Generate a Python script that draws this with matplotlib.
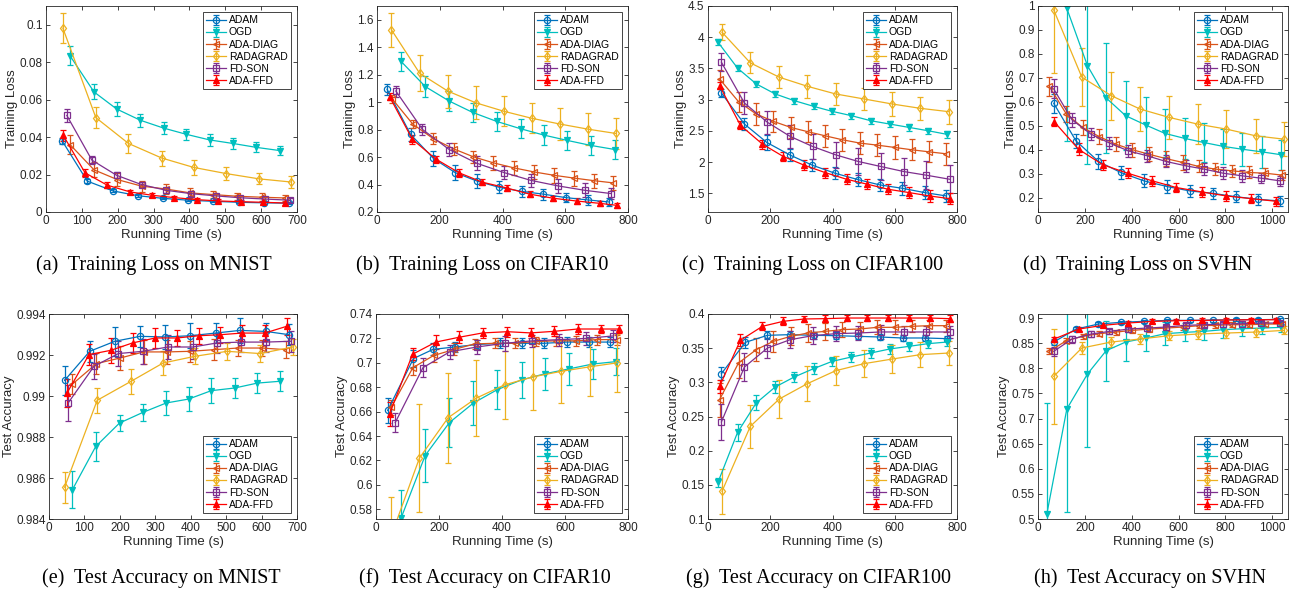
import matplotlib
matplotlib.use("Agg")
import matplotlib.pyplot as plt
from matplotlib.ticker import FuncFormatter

plt.rcParams['font.family'] = ['Liberation Sans', 'DejaVu Sans']

names = ['ADAM', 'OGD', 'ADA-DIAG', 'RADAGRAD', 'FD-SON', 'ADA-FFD']
colors = ['#0072BD', '#00BFBF', '#D95319', '#EDB120', '#7E2F8E', '#FF0000']
markers = ['o', 'v', '<', 'd', 's', '^']

# (a) training loss, MNIST
a_x = [[45, 115, 186, 256, 326, 396, 467, 537, 607, 677],
       [67, 134, 197, 263, 328, 391, 456, 521, 587, 652],
       [67, 134, 199, 267, 334, 402, 467, 534, 601, 666],
       [47, 139, 230, 323, 412, 503, 594, 684],
       [58, 128, 197, 267, 335, 404, 474, 542, 612, 681],
       [48, 109, 171, 235, 297, 357, 421, 481, 544, 604, 667]]
a_y = [[0.038, 0.0165, 0.0113, 0.0087, 0.0073, 0.0063, 0.0057, 0.0052, 0.0049, 0.0047],
       [0.0834, 0.0641, 0.055, 0.049, 0.0448, 0.0415, 0.0385, 0.0366, 0.0345, 0.0328],
       [0.036, 0.0225, 0.0173, 0.0138, 0.0123, 0.0102, 0.0093, 0.0084, 0.0079, 0.0075],
       [0.0982, 0.0504, 0.0366, 0.0288, 0.0238, 0.0205, 0.0177, 0.016],
       [0.0516, 0.0277, 0.0196, 0.0146, 0.0116, 0.0098, 0.0086, 0.0076, 0.0069, 0.0063],
       [0.041, 0.0209, 0.0143, 0.0107, 0.0089, 0.0077, 0.0066, 0.0059, 0.0055, 0.0052, 0.0048]]
a_e = [[0.0015, 0.001, 0.0008, 0.0007, 0.0006, 0.0006, 0.0005, 0.0005, 0.0005, 0.0005],
       [0.005, 0.004, 0.0037, 0.0035, 0.003, 0.003, 0.003, 0.0027, 0.0027, 0.0023],
       [0.005, 0.004, 0.0035, 0.003, 0.0025, 0.0025, 0.002, 0.002, 0.002, 0.0015],
       [0.008, 0.0055, 0.005, 0.004, 0.004, 0.0033, 0.003, 0.003],
       [0.0035, 0.002, 0.0017, 0.0015, 0.0014, 0.0012, 0.0011, 0.001, 0.001, 0.001],
       [0.003, 0.002, 0.0015, 0.001, 0.001, 0.001, 0.0008, 0.0008, 0.0008, 0.0008, 0.0008]]

# (b) training loss, CIFAR10
b_x = [[32, 107, 180, 249, 320, 389, 461, 530, 601, 671, 739],
       [77, 154, 230, 305, 381, 458, 532, 607, 681, 758],
       [48, 114, 180, 244, 307, 371, 437, 500, 565, 628, 692, 753],
       [46, 136, 226, 315, 405, 494, 584, 673, 761],
       [60, 145, 230, 318, 405, 491, 577, 662, 747],
       [40, 113, 188, 262, 336, 413, 487, 562, 636, 710, 766]]
b_y = [[1.094, 0.765, 0.59, 0.487, 0.424, 0.38, 0.35, 0.33, 0.305, 0.288, 0.273],
       [1.296, 1.113, 1.008, 0.925, 0.86, 0.806, 0.76, 0.721, 0.685, 0.655],
       [1.025, 0.84, 0.733, 0.66, 0.602, 0.558, 0.521, 0.492, 0.467, 0.447, 0.428, 0.412],
       [1.527, 1.21, 1.08, 0.995, 0.933, 0.882, 0.84, 0.803, 0.772],
       [1.081, 0.801, 0.655, 0.555, 0.487, 0.43, 0.39, 0.358, 0.334],
       [1.04, 0.728, 0.585, 0.485, 0.417, 0.375, 0.33, 0.3, 0.28, 0.263, 0.248]]
b_e = [[0.04, 0.05, 0.055, 0.055, 0.05, 0.045, 0.04, 0.04, 0.035, 0.035, 0.03],
       [0.07, 0.075, 0.07, 0.07, 0.07, 0.07, 0.07, 0.07, 0.07, 0.07],
       [0.03, 0.03, 0.04, 0.045, 0.045, 0.05, 0.05, 0.05, 0.055, 0.055, 0.05, 0.05],
       [0.125, 0.13, 0.12, 0.12, 0.11, 0.11, 0.115, 0.115, 0.11],
       [0.04, 0.04, 0.05, 0.05, 0.05, 0.05, 0.05, 0.05, 0.04],
       [0.025, 0.03, 0.025, 0.03, 0.02, 0.02, 0.02, 0.02, 0.02, 0.02, 0.02]]

# (c) training loss, CIFAR100
c_x = [[43, 117, 189, 262, 335, 408, 481, 552, 624, 696, 766],
       [32, 95, 155, 216, 277, 339, 399, 461, 523, 584, 646, 707, 769],
       [37, 98, 155, 210, 266, 321, 376, 432, 488, 544, 600, 656, 710, 766],
       [45, 136, 229, 319, 410, 501, 592, 682, 774],
       [43, 117, 191, 264, 336, 410, 483, 555, 629, 702, 776],
       [37, 104, 175, 242, 309, 376, 445, 512, 579, 646, 712, 776]]
c_y = [[3.107, 2.609, 2.314, 2.116, 1.95, 1.821, 1.72, 1.634, 1.58, 1.511, 1.457],
       [3.921, 3.504, 3.252, 3.091, 2.984, 2.893, 2.812, 2.743, 2.662, 2.609, 2.555, 2.502, 2.443],
       [3.332, 2.968, 2.77, 2.652, 2.555, 2.486, 2.421, 2.357, 2.304, 2.271, 2.234, 2.196, 2.164, 2.132],
       [4.08, 3.589, 3.359, 3.214, 3.091, 3.011, 2.93, 2.861, 2.807],
       [3.6, 2.946, 2.636, 2.411, 2.25, 2.116, 2.009, 1.929, 1.848, 1.789, 1.725],
       [3.225, 2.59, 2.287, 2.089, 1.95, 1.832, 1.725, 1.645, 1.564, 1.511, 1.457, 1.414]]
c_e = [[0.06, 0.1, 0.12, 0.1, 0.1, 0.1, 0.1, 0.1, 0.1, 0.1, 0.1],
       [0.05] * 13,
       [0.14, 0.16, 0.17, 0.17, 0.17, 0.17, 0.18, 0.18, 0.18, 0.18, 0.18, 0.17, 0.17, 0.18],
       [0.13, 0.17, 0.18, 0.18, 0.18, 0.18, 0.19, 0.18, 0.19],
       [0.14, 0.17, 0.18, 0.19, 0.2, 0.21, 0.21, 0.22, 0.22, 0.22, 0.22],
       [0.05, 0.06, 0.07, 0.08, 0.08, 0.08, 0.08, 0.08, 0.08, 0.09, 0.09, 0.09]]

# (d) training loss, SVHN
d_x = [[67, 162, 258, 353, 452, 552, 648, 745, 843, 939, 1034],
       [40, 123, 211, 291, 374, 460, 542, 627, 708, 790, 872, 956, 1038],
       [48, 121, 190, 261, 332, 403, 474, 546, 617, 687, 757, 828, 899, 970, 1041],
       [67, 187, 312, 435, 559, 681, 804, 929, 1050],
       [67, 145, 226, 305, 386, 465, 546, 630, 709, 790, 871, 953, 1034],
       [69, 173, 277, 383, 488, 591, 698, 804, 908, 1014]]
d_y = [[0.594, 0.437, 0.351, 0.305, 0.27, 0.246, 0.228, 0.218, 0.204, 0.193, 0.186],
       [1.6, 0.99, 0.751, 0.616, 0.542, 0.503, 0.468, 0.447, 0.43, 0.414, 0.402, 0.391, 0.379],
       [0.665, 0.549, 0.493, 0.455, 0.423, 0.4, 0.381, 0.363, 0.347, 0.33, 0.319, 0.312, 0.305, 0.302, 0.294],
       [0.984, 0.703, 0.626, 0.57, 0.535, 0.507, 0.486, 0.458, 0.444],
       [0.654, 0.525, 0.465, 0.428, 0.395, 0.375, 0.351, 0.333, 0.319, 0.302, 0.291, 0.281, 0.27],
       [0.517, 0.402, 0.337, 0.302, 0.27, 0.242, 0.224, 0.207, 0.196, 0.185]]
d_e = [[0.04, 0.03, 0.03, 0.028, 0.027, 0.026, 0.025, 0.024, 0.022, 0.022, 0.022],
       [0.5, 0.555, 0.41, 0.23, 0.143, 0.118, 0.1, 0.085, 0.08, 0.073, 0.068, 0.068, 0.063],
       [0.04, 0.035, 0.03, 0.03, 0.03, 0.03, 0.03, 0.03, 0.03, 0.025, 0.025, 0.025, 0.025, 0.02, 0.02],
       [0.265, 0.12, 0.1, 0.09, 0.09, 0.085, 0.078, 0.072, 0.07],
       [0.04, 0.03, 0.025, 0.025, 0.025, 0.025, 0.025, 0.025, 0.025, 0.025, 0.025, 0.02, 0.02],
       [0.02, 0.025, 0.02, 0.02, 0.02, 0.02, 0.02, 0.02, 0.02, 0.018]]

# (e) test accuracy, MNIST
e_x = [[44, 115, 186, 257, 328, 399, 470, 539, 612, 678],
       [66, 132, 199, 265, 331, 394, 458, 524, 588, 653],
       [66, 134, 200, 267, 333, 399, 465, 533, 601, 669],
       [44, 136, 231, 322, 413, 503, 596, 688],
       [54, 127, 196, 265, 336, 406, 475, 543, 612, 683],
       [51, 113, 175, 236, 300, 361, 423, 484, 545, 609, 671]]
e_y = [[0.99076, 0.99218, 0.99267, 0.99291, 0.99288, 0.99294, 0.99307, 0.9932, 0.99315, 0.99299],
       [0.98543, 0.98754, 0.98868, 0.9892, 0.98966, 0.98985, 0.99026, 0.99039, 0.99063, 0.99072],
       [0.99058, 0.99158, 0.99185, 0.99215, 0.99215, 0.99218, 0.99226, 0.99234, 0.99234, 0.99226],
       [0.98555, 0.98979, 0.99071, 0.99161, 0.99194, 0.99218, 0.99207, 0.99239],
       [0.98966, 0.99145, 0.99207, 0.99218, 0.99239, 0.99239, 0.99259, 0.99263, 0.99263, 0.99267],
       [0.99015, 0.99202, 0.99223, 0.99259, 0.99283, 0.99283, 0.99294, 0.99299, 0.99307, 0.99307, 0.9934]]
e_e = [[0.0007, 0.0005, 0.0007, 0.0005, 0.0006, 0.0006, 0.0005, 0.0006, 0.0004, 0.0005],
       [0.0009, 0.0007, 0.0004, 0.0004, 0.0006, 0.0006, 0.0006, 0.0005, 0.0005, 0.0005],
       [0.0005, 0.0005, 0.0006, 0.0006, 0.0006, 0.0005, 0.0005, 0.0004, 0.0004, 0.0004],
       [0.00075, 0.0006, 0.0006, 0.0006, 0.0004, 0.0004, 0.0004, 0.0004],
       [0.0009, 0.0006, 0.0006, 0.0006, 0.0006, 0.0006, 0.0005, 0.0005, 0.0005, 0.0005],
       [0.0007, 0.0005, 0.0006, 0.0005, 0.0005, 0.0004, 0.0004, 0.0004, 0.0004, 0.0004, 0.0004]]

# (f) test accuracy, CIFAR10
f_x = [[37, 119, 181, 250, 321, 393, 465, 534, 605, 676, 744],
       [80, 156, 233, 309, 385, 462, 536, 612, 688, 763],
       [48, 117, 183, 249, 313, 378, 441, 507, 571, 635, 701, 765],
       [48, 138, 229, 318, 409, 499, 588, 678, 766],
       [61, 149, 234, 321, 409, 495, 582, 667, 752],
       [43, 116, 190, 265, 339, 417, 491, 566, 640, 715, 771]]
f_y = [[0.661, 0.7035, 0.711, 0.713, 0.715, 0.716, 0.716, 0.716, 0.717, 0.717, 0.717],
       [0.573, 0.624, 0.651, 0.667, 0.678, 0.686, 0.691, 0.695, 0.699, 0.701],
       [0.6634, 0.696, 0.706, 0.711, 0.7155, 0.716, 0.716, 0.7175, 0.718, 0.718, 0.719, 0.719],
       [0.558, 0.622, 0.655, 0.671, 0.682, 0.6885, 0.693, 0.6967, 0.7],
       [0.651, 0.696, 0.709, 0.713, 0.716, 0.718, 0.719, 0.72, 0.722],
       [0.658, 0.707, 0.717, 0.721, 0.7245, 0.7255, 0.7245, 0.7258, 0.7277, 0.7277, 0.7277]]
f_e = [[0.01, 0.007, 0.005, 0.004, 0.004, 0.004, 0.004, 0.004, 0.004, 0.004, 0.004],
       [0.023, 0.022, 0.02, 0.018, 0.016, 0.015, 0.013, 0.013, 0.012, 0.011],
       [0.006, 0.006, 0.005, 0.005, 0.004, 0.004, 0.004, 0.004, 0.004, 0.004, 0.004, 0.004],
       [0.032, 0.044, 0.037, 0.031, 0.028, 0.027, 0.026, 0.024, 0.024],
       [0.008, 0.008, 0.006, 0.006, 0.006, 0.005, 0.005, 0.005, 0.005],
       [0.01, 0.005, 0.006, 0.005, 0.004, 0.004, 0.004, 0.004, 0.004, 0.003, 0.003]]

# (g) test accuracy, CIFAR100
g_x = [[43, 120, 191, 264, 339, 410, 483, 554, 625, 696, 769],
       [32, 95, 155, 216, 277, 339, 399, 461, 523, 584, 646, 707, 769],
       [37, 98, 155, 210, 266, 321, 376, 432, 488, 544, 600, 656, 710, 766],
       [45, 136, 229, 319, 410, 501, 592, 682, 774],
       [43, 117, 191, 264, 336, 410, 483, 555, 629, 702, 776],
       [37, 104, 175, 242, 309, 376, 445, 512, 579, 646, 712, 776]]
g_y = [[0.3127, 0.3585, 0.3688, 0.3698, 0.3688, 0.3683, 0.3673, 0.3663, 0.3649, 0.3649, 0.3639],
       [0.1537, 0.2268, 0.2698, 0.2932, 0.3078, 0.32, 0.3307, 0.3371, 0.3429, 0.3488, 0.3527, 0.3566, 0.359],
       [0.2746, 0.3283, 0.3478, 0.36, 0.3673, 0.3722, 0.3746, 0.3771, 0.3781, 0.3805, 0.3805, 0.382, 0.3829, 0.3829],
       [0.1405, 0.2356, 0.2756, 0.298, 0.317, 0.3273, 0.3341, 0.3405, 0.3429],
       [0.242, 0.3224, 0.3502, 0.3624, 0.3683, 0.3712, 0.3722, 0.3737, 0.3737, 0.3737, 0.3737],
       [0.2941, 0.3615, 0.382, 0.3893, 0.3927, 0.3932, 0.3941, 0.3941, 0.3941, 0.3941, 0.3941, 0.3932]]
g_e = [[0.01, 0.008, 0.006, 0.005, 0.005, 0.005, 0.004, 0.004, 0.004, 0.004, 0.004],
       [0.007, 0.012, 0.011, 0.009, 0.008, 0.008, 0.007, 0.007, 0.007, 0.007, 0.007, 0.006, 0.006],
       [0.025, 0.022, 0.017, 0.015, 0.013, 0.013, 0.012, 0.011, 0.01, 0.01, 0.01, 0.009, 0.009, 0.009],
       [0.033, 0.031, 0.028, 0.026, 0.021, 0.02, 0.02, 0.018, 0.017],
       [0.026, 0.02, 0.015, 0.012, 0.012, 0.011, 0.01, 0.01, 0.009, 0.009, 0.009],
       [0.01, 0.009, 0.006, 0.006, 0.005, 0.005, 0.005, 0.005, 0.005, 0.005, 0.005, 0.005]]

# (h) test accuracy, SVHN
h_x = [[67, 162, 258, 353, 452, 552, 648, 745, 843, 939, 1034],
       [38, 123, 211, 291, 374, 460, 542, 627, 708, 790, 872, 956, 1038],
       [48, 121, 190, 261, 332, 403, 474, 546, 617, 687, 757, 828, 899, 970, 1041],
       [67, 187, 312, 435, 559, 681, 804, 929, 1050],
       [67, 145, 226, 305, 386, 465, 546, 630, 709, 790, 871, 953, 1034],
       [69, 173, 277, 383, 488, 591, 698, 804, 908, 1014]]
h_y = [[0.8522, 0.878, 0.888, 0.8914, 0.8934, 0.8953, 0.8953, 0.896, 0.8966, 0.8966, 0.8973],
       [0.5106, 0.7189, 0.7885, 0.835, 0.8522, 0.8602, 0.8688, 0.8715, 0.8734, 0.8768, 0.8787, 0.88, 0.8814],
       [0.8336, 0.8549, 0.8635, 0.8688, 0.8721, 0.8754, 0.878, 0.88, 0.882, 0.8847, 0.8854, 0.8867, 0.8867, 0.888, 0.888],
       [0.7839, 0.8403, 0.8522, 0.8582, 0.8648, 0.8681, 0.8701, 0.8721, 0.8754],
       [0.8336, 0.8582, 0.8681, 0.8734, 0.878, 0.88, 0.882, 0.8854, 0.8867, 0.888, 0.8887, 0.89, 0.89],
       [0.8582, 0.878, 0.8854, 0.89, 0.8933, 0.8946, 0.8953, 0.896, 0.8966, 0.8966]]
h_e = [[0.006, 0.004, 0.004, 0.003, 0.003, 0.003, 0.003, 0.003, 0.003, 0.003, 0.003],
       [0.22, 0.205, 0.145, 0.06, 0.037, 0.025, 0.023, 0.018, 0.017, 0.016, 0.014, 0.012, 0.01],
       [0.006, 0.005, 0.005, 0.005, 0.005, 0.005, 0.005, 0.005, 0.005, 0.005, 0.005, 0.005, 0.005, 0.005, 0.005],
       [0.094, 0.012, 0.01, 0.01, 0.009, 0.009, 0.009, 0.009, 0.008],
       [0.009, 0.007, 0.006, 0.005, 0.005, 0.005, 0.005, 0.005, 0.005, 0.005, 0.005, 0.005, 0.005],
       [0.005, 0.004, 0.004, 0.004, 0.004, 0.004, 0.004, 0.004, 0.004, 0.004]]

captions = ['(a)  Training Loss on MNIST', '(b)  Training Loss on CIFAR10',
            '(c)  Training Loss on CIFAR100', '(d)  Training Loss on SVHN',
            '(e)  Test Accuracy on MNIST', '(f)  Test Accuracy on CIFAR10',
            '(g)  Test Accuracy on CIFAR100', '(h)  Test Accuracy on SVHN']

W, H = 1305, 592
# axes boxes in pixels: left, top, right, bottom
boxes = [(46, 6, 297, 212), (377, 6, 628, 212), (708, 6, 957, 212), (1038, 6, 1288, 212),
         (49, 314, 297, 519), (376, 314, 628, 519), (708, 314, 957, 519), (1038, 314, 1288, 519)]
cap_pos = [(154, 265), (482, 265), (813, 265), (1138, 265),
           (161, 578), (485, 578), (818, 578), (1150, 578)]

xlims = [(0, 700), (0, 800), (0, 800), (0, 1067), (0, 700), (0, 800), (0, 800), (0, 1067)]
ylims = [(0, 0.11), (0.2, 1.7), (1.2, 4.5), (0.14, 1.0),
         (0.984, 0.994), (0.572, 0.74), (0.1, 0.4), (0.5, 0.908)]
xticks = [range(0, 701, 100), range(0, 801, 200), range(0, 801, 200), range(0, 1001, 200),
          range(0, 701, 100), range(0, 801, 200), range(0, 801, 200), range(0, 1001, 200)]
yticks = [[0, 0.02, 0.04, 0.06, 0.08, 0.1],
          [0.2, 0.4, 0.6, 0.8, 1, 1.2, 1.4, 1.6],
          [1.5, 2, 2.5, 3, 3.5, 4, 4.5],
          [0.2, 0.3, 0.4, 0.5, 0.6, 0.7, 0.8, 0.9, 1],
          [0.984, 0.986, 0.988, 0.99, 0.992, 0.994],
          [0.58, 0.6, 0.62, 0.64, 0.66, 0.68, 0.7, 0.72, 0.74],
          [0.1, 0.15, 0.2, 0.25, 0.3, 0.35, 0.4],
          [0.5, 0.55, 0.6, 0.65, 0.7, 0.75, 0.8, 0.85, 0.9]]
data = [(a_x, a_y, a_e), (b_x, b_y, b_e), (c_x, c_y, c_e), (d_x, d_y, d_e),
        (e_x, e_y, e_e), (f_x, f_y, f_e), (g_x, g_y, g_e), (h_x, h_y, h_e)]

fig = plt.figure(figsize=(W / 100, H / 100), dpi=100)
axcol = '#262626'

for k in range(8):
    l, t, r, b = boxes[k]
    ax = fig.add_axes([l / W, 1 - b / H, (r - l) / W, (b - t) / H])
    xs, ys, es = data[k]
    for i in range(6):
        mfc = colors[i] if markers[i] in ('^', 'v') else 'none'
        ax.errorbar(xs[i], ys[i], yerr=es[i], color=colors[i], marker=markers[i],
                    ms=4.5, mfc=mfc, mew=0.9, lw=0.9, elinewidth=0.9,
                    capsize=2, capthick=0.9, label=names[i])
    ax.set_xlim(*xlims[k])
    ax.set_ylim(*ylims[k])
    ax.set_xticks(list(xticks[k]))
    ax.set_yticks(yticks[k])
    ax.yaxis.set_major_formatter(FuncFormatter(lambda v, p: '%g' % round(v, 6)))
    ax.tick_params(direction='in', top=True, right=True, length=3, width=0.6,
                   labelsize=8.5, colors=axcol, pad=2.5)
    for s in ax.spines.values():
        s.set_color(axcol)
        s.set_linewidth(0.6)
    ax.set_xlabel('Running Time (s)', fontsize=9.5, color=axcol, labelpad=1)
    ax.set_ylabel('Training Loss' if k < 4 else 'Test Accuracy', fontsize=9.5,
                  color=axcol, labelpad=1)
    leg = ax.legend(loc='upper right' if k < 4 else 'lower right', fontsize=7.5,
                    frameon=True, fancybox=False, edgecolor=axcol, framealpha=1,
                    handlelength=1.9, handletextpad=0.25, borderpad=0.3,
                    labelspacing=0.2, borderaxespad=0.6)
    leg.get_frame().set_linewidth(0.6)
    cx, cy = cap_pos[k]
    fig.text(cx / W, 1 - cy / H, captions[k], ha='center', va='center',
             fontsize=14.5, family=['Liberation Serif', 'DejaVu Serif'])

fig.savefig('out.png', dpi=100)
